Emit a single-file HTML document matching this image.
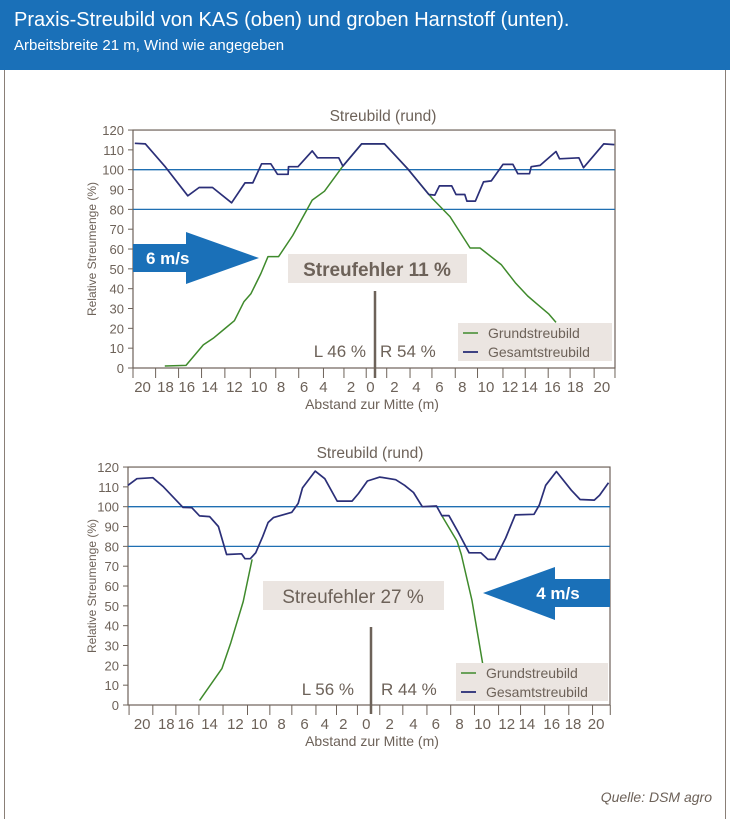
<!DOCTYPE html>
<html><head><meta charset="utf-8">
<style>
html,body{margin:0;padding:0;background:#fff;}
body{width:730px;height:819px;position:relative;overflow:hidden;font-family:"Liberation Sans","DejaVu Sans",sans-serif;}
#hdr{position:absolute;left:0;top:0;width:730px;height:70px;background:#1a70b8;color:#fff;}
#hdr .t{position:absolute;left:14px;top:9px;font-size:20px;}
#hdr .s{position:absolute;left:14px;top:37px;font-size:15px;}
.bl{position:absolute;top:70px;width:1px;height:749px;background:#8a7f77;}
svg{position:absolute;left:0;top:0;}
</style></head><body>
<div id="hdr"><div class="t">Praxis-Streubild von KAS (oben) und groben Harnstoff (unten).</div><div class="s">Arbeitsbreite 21 m, Wind wie angegeben</div></div>
<div class="bl" style="left:4px"></div><div class="bl" style="left:725px"></div>
<svg id="s" width="730" height="819" xmlns="http://www.w3.org/2000/svg" font-family="Liberation Sans, DejaVu Sans, sans-serif"></svg>
<script>
var S=document.getElementById('s'),out='';
var C='#6d6259';
function chart(o){
 var L=o.L,R=o.R,y0=o.y0,k=1.983;
 function Y(v){return y0-v*k;}
 function X(xz){return L+(xz-o.zx0)/o.zf;}
 function V(yz){return (o.zy0-yz)/o.zu;}
 // box
 out+='<rect x="'+L+'" y="'+Y(120)+'" width="'+(R-L)+'" height="'+(120*k)+'" fill="none" stroke="'+C+'" stroke-width="1.2"/>';
 for(var v=0;v<=120;v+=10){
  out+='<line x1="'+(L-5)+'" x2="'+L+'" y1="'+Y(v)+'" y2="'+Y(v)+'" stroke="'+C+'"/>';
  out+='<text x="'+(L-9)+'" y="'+(Y(v)+5)+'" font-size="13" fill="'+C+'" text-anchor="end">'+v+'</text>';
 }
 out+='<line x1="'+L+'" x2="'+R+'" y1="'+Y(100)+'" y2="'+Y(100)+'" stroke="#1f6fb2" stroke-width="1.3"/>';
 out+='<line x1="'+L+'" x2="'+R+'" y1="'+Y(80)+'" y2="'+Y(80)+'" stroke="#1f6fb2" stroke-width="1.3"/>';
 o.ticks.forEach(function(t){var x=X(t);out+='<line x1="'+x+'" x2="'+x+'" y1="'+y0+'" y2="'+(y0+10)+'" stroke="'+C+'"/>';});
 o.labs.forEach(function(p){out+='<text x="'+X(p[0])+'" y="'+(y0+24)+'" font-size="15" fill="'+C+'" text-anchor="middle">'+p[1]+'</text>';});
 out+='<text x="'+o.cx+'" y="'+(y0+41)+'" font-size="14" fill="'+C+'" text-anchor="middle">Abstand zur Mitte (m)</text>';
 out+='<text x="'+o.cx2+'" y="'+(Y(120)-9)+'" font-size="15.5" fill="'+C+'" text-anchor="middle">Streubild (rund)</text>';
 var ym=Y(60);
 out+='<text transform="translate(96,'+ym+') rotate(-90)" font-size="12" fill="'+C+'" text-anchor="middle">Relative Streumenge (%)</text>';
 function pl(a,col,w){var s=a.map(function(p){return X(p[0]).toFixed(1)+','+Y(V(p[1])).toFixed(1);}).join(' ');
  out+='<polyline points="'+s+'" fill="none" stroke="'+col+'" stroke-width="'+w+'" stroke-linejoin="round"/>';}
 o.green.forEach(function(g){pl(g,'#3f8a2c',1.5);});
 pl(o.blue,'#2b2f78',1.7);
}
var base=[[163,123],[193,125],[250,195],[313,282],[345,257],[383,257],[437,303],[475,243],[497,243],[522,185],[548,185],[567,217],[597,217],[598,194],[625,194],[665,146],[680,167],[740,167],[752,192],[805,125],[870,125],[935,200],[995,278],[1012,280],[1025,252],[1060,252],[1072,278],[1097,278],[1103,298],[1127,298],[1150,240],[1172,237],[1205,187],[1233,187],[1247,215],[1280,215],[1285,194],[1310,190],[1355,148],[1365,170],[1420,167],[1433,197],[1490,125],[1520,127]];
chart({L:133,R:615,y0:368,zx0:158,zf:2.83,zy0:803,zu:6,cx:372,cx2:383,
 ticks:[158,222,287,352,418,490,562,627,697,755,818,876,942,1004,1070,1133,1205,1268,1333,1395,1463,1522],
 labs:[[185,'20'],[250,'18'],[310,'16'],[375,'14'],[445,'12'],[515,'10'],[577,'8'],[642,'6'],[697,'4'],[775,'2'],[830,'0'],[898,'2'],[960,'4'],[1025,'6'],[1090,'8'],[1157,'10'],[1225,'12'],[1280,'14'],[1345,'16'],[1410,'18'],[1485,'20']],
 green:[[[248,797],[308,795],[357,733],[385,713],[420,682],[445,660],[472,602],[492,578],[520,517],[540,466],[570,466],[610,402],[665,295],[700,268],[752,192],[805,125],[870,125],[935,200],[1005,290],[1055,345],[1112,440],[1140,440],[1200,490],[1240,545],[1275,585],[1300,608],[1335,640],[1355,665]]],
 blue:base});
chart({L:128,R:610,y0:705,zx0:150,zf:2.82,zy0:797,zu:6.02,cx:372,cx2:370,
 ticks:[153,220,285,350,418,487,550,612,680,738,797,860,925,993,1060,1127,1195,1257,1325,1393,1460,1510],
 labs:[[190,'20'],[258,'18'],[313,'16'],[380,'14'],[453,'12'],[520,'10'],[583,'8'],[648,'6'],[705,'4'],[757,'2'],[822,'0'],[888,'2'],[955,'4'],[1018,'6'],[1085,'8'],[1150,'10'],[1218,'12'],[1275,'14'],[1345,'16'],[1405,'18'],[1470,'20']],
 green:[[[352,783],[415,686],[440,608],[475,483],[500,355]],[[1035,222],[1078,300],[1090,340],[1120,480],[1150,670]]],
 blue:[[150,130],[175,110],[220,107],[250,135],[305,197],[330,198],[352,223],[380,225],[405,255],[428,340],[470,338],[480,353],[495,353],[510,335],[530,285],[545,243],[560,228],[612,212],[630,185],[642,138],[678,87],[705,110],[740,178],[782,178],[800,155],[825,117],[860,105],[905,113],[930,130],[955,152],[980,195],[1020,193],[1035,222],[1055,222],[1080,270],[1112,335],[1145,335],[1165,355],[1185,355],[1215,290],[1242,220],[1295,218],[1310,190],[1328,130],[1358,88],[1400,145],[1425,173],[1465,175],[1480,160],[1505,122]]});
// arrows
out+='<polygon points="133,244 186,244 186,232 259,258 186,284 186,272 133,272" fill="#1a70b8"/>';
out+='<text x="146" y="264" font-size="17" font-weight="bold" fill="#fff">6 m/s</text>';
out+='<polygon points="610,579 555,579 555,567 483,593 555,620 555,607 610,607" fill="#1a70b8"/>';
out+='<text x="558" y="599" font-size="17" font-weight="bold" fill="#fff" text-anchor="middle">4 m/s</text>';
// boxes
out+='<rect x="288" y="254" width="179" height="29" fill="#ebe5e1"/>';
out+='<text x="377" y="276" font-size="19" font-weight="bold" fill="#6d6259" text-anchor="middle">Streufehler 11 %</text>';
out+='<rect x="263" y="581" width="181" height="29" fill="#ebe5e1"/>';
out+='<text x="353" y="603" font-size="19" fill="#6d6259" text-anchor="middle">Streufehler 27 %</text>';
out+='<line x1="375" x2="375" y1="291" y2="378" stroke="#6d6259" stroke-width="2.5"/>';
out+='<line x1="371" x2="371" y1="627" y2="714" stroke="#6d6259" stroke-width="2.5"/>';
out+='<text x="366" y="357" font-size="17" fill="#6d6259" text-anchor="end">L 46 %</text>';
out+='<text x="380" y="357" font-size="17" fill="#6d6259">R 54 %</text>';
out+='<text x="354" y="695" font-size="17" fill="#6d6259" text-anchor="end">L 56 %</text>';
out+='<text x="381" y="695" font-size="17" fill="#6d6259">R 44 %</text>';
function leg(x,y,w){out+='<rect x="'+x+'" y="'+y+'" width="'+w+'" height="38" fill="#ebe5e1"/>';
 out+='<line x1="'+(x+5)+'" x2="'+(x+20)+'" y1="'+(y+10)+'" y2="'+(y+10)+'" stroke="#3f8a2c" stroke-width="1.5"/>';
 out+='<line x1="'+(x+5)+'" x2="'+(x+20)+'" y1="'+(y+29)+'" y2="'+(y+29)+'" stroke="#2b2f78" stroke-width="1.8"/>';
 out+='<text x="'+(x+30)+'" y="'+(y+15)+'" font-size="14" fill="#6d6259">Grundstreubild</text>';
 out+='<text x="'+(x+30)+'" y="'+(y+34)+'" font-size="14" fill="#6d6259">Gesamtstreubild</text>';}
leg(458,323,154);leg(456,663,152);
out+='<text x="712" y="802" font-size="14" font-style="italic" fill="#6d6259" text-anchor="end">Quelle: DSM agro</text>';
S.innerHTML=out;
</script>
</body></html>
